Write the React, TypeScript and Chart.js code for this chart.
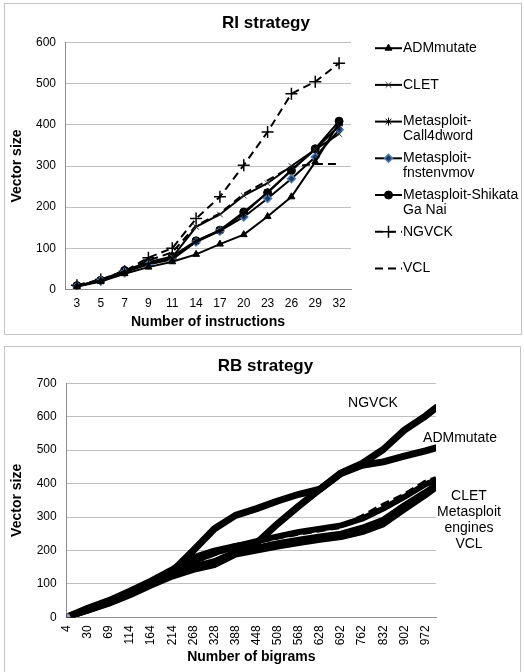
import React, { useEffect, useRef } from 'react';
import { Chart, registerables } from 'chart.js';
import { drawPoint } from 'chart.js/helpers';

Chart.register(...registerables);
Chart.defaults.font.family = '"Liberation Sans", Arial, sans-serif';

// ---------- RI strategy (top chart) ----------
const riTitle = 'RI strategy';
const riCategories = ['3', '5', '7', '9', '11', '14', '17', '20', '23', '26', '29', '32'];
const riADMmutate = [7, 19, 38, 54, 67, 85, 110, 133, 177, 225, 310, 405];
const riCLET = [8, 20, 42, 63, 78, 152, 182, 228, 258, 300, 340, 378];
const riCall4dword = [8, 21, 43, 63, 76, 117, 143, 184, 236, 290, 340, 398];
const riFnstenvmov = [7, 21, 42, 60, 73, 115, 142, 176, 221, 269, 322, 388];
const riShikata = [9, 22, 46, 66, 80, 118, 144, 188, 235, 289, 342, 409];
const riNGVCK = [10, 24, 44, 77, 100, 172, 225, 302, 383, 476, 505, 550];
const riVCL = [9, 23, 45, 70, 90, 155, 185, 232, 265, 298, 305, 305];
const riLegendLines = [
  ['ADMmutate'],
  ['CLET'],
  ['Metasploit-', 'Call4dword'],
  ['Metasploit-', 'fnstenvmov'],
  ['Metasploit-Shikata', 'Ga Nai'],
  ['NGVCK'],
  ['VCL'],
];
const seriesNames = [
  'ADMmutate',
  'CLET',
  'Metasploit-Call4dword',
  'Metasploit-fnstenvmov',
  'Metasploit-Shikata Ga Nai',
  'NGVCK',
  'VCL',
];

// ---------- RB strategy (bottom chart) ----------
const rbTitle = 'RB strategy';
const rbTickLabels = ['4', '30', '69', '114', '164', '214', '268', '328', '388', '448', '508', '568', '628', '692', '762', '832', '902', '972'];
// sample position on the category-index axis (last sample lies half a step after "972")
const rbSampleIndex = [0, 1, 2, 3, 4, 5, 6, 7, 8, 9, 10, 11, 12, 13, 14, 15, 16, 17, 17.5];
const rbADMmutate = [0, 25, 48, 75, 105, 138, 200, 265, 305, 325, 348, 368, 383, 430, 455, 465, 482, 498, 507];
const rbNGVCK = [0, 27, 50, 78, 108, 142, 178, 198, 212, 222, 280, 333, 383, 432, 460, 502, 560, 602, 627];
const rbCLET = [0, 24, 47, 74, 103, 132, 168, 192, 213, 228, 242, 255, 265, 275, 295, 325, 360, 398, 410];
const rbCall4dword = [0, 22, 44, 70, 99, 127, 152, 168, 196, 208, 222, 232, 242, 250, 268, 292, 335, 375, 395];
const rbFnstenvmov = [0, 20, 41, 66, 95, 122, 142, 156, 188, 200, 212, 222, 232, 240, 255, 278, 322, 365, 388];
const rbShikata = [0, 21, 42, 68, 97, 124, 146, 160, 190, 203, 218, 228, 238, 246, 262, 285, 330, 370, 392];
const rbVCL = [0, 23, 46, 72, 101, 130, 166, 190, 211, 226, 240, 252, 262, 272, 300, 335, 365, 404, 415];
const rbGroupLines = ['CLET', 'Metasploit', 'engines', 'VCL'];

const FONT = '"Liberation Sans", Arial, sans-serif';
const GRID = '#bfbfbf';
const AXIS = '#8c8c8c';
const TXT = '#000';

const titlePlugin = {
  id: 'frameTitle',
  afterDraw(chart: any, _args: any, opts: any) {
    const { ctx, width } = chart;
    ctx.save();
    ctx.font = 'bold 17px ' + FONT;
    ctx.textAlign = 'center';
    ctx.textBaseline = 'middle';
    ctx.fillStyle = TXT;
    ctx.fillText(opts.text, width / 2 + 3, 19);
    ctx.restore();
  },
};

const riLegendPlugin = {
  id: 'riLegend',
  afterDraw(chart: any) {
    const { ctx, chartArea } = chart;
    const x0 = chartArea.right + 24;
    const x1 = chartArea.right + 51;
    ctx.save();
    ctx.font = '14px ' + FONT;
    ctx.textBaseline = 'middle';
    ctx.textAlign = 'left';
    chart.data.datasets.forEach((ds: any, i: number) => {
      const y = chartArea.top + 5.5 + i * 36.7;
      ctx.strokeStyle = ds.borderColor;
      ctx.lineWidth = ds.borderWidth;
      ctx.setLineDash(ds.borderDash || []);
      ctx.beginPath();
      ctx.moveTo(x0, y);
      ctx.lineTo(x1, y);
      ctx.stroke();
      ctx.setLineDash([]);
      if (ds.pointRadius > 0) {
        ctx.fillStyle = ds.pointBackgroundColor || ds.backgroundColor;
        ctx.strokeStyle = ds.pointBorderColor || ds.borderColor;
        ctx.lineWidth = ds.pointBorderWidth;
        drawPoint(
          ctx,
          { pointStyle: ds.pointStyle, radius: ds.pointRadius, rotation: 0, borderWidth: ds.pointBorderWidth } as any,
          (x0 + x1) / 2,
          y
        );
      }
      ctx.fillStyle = TXT;
      riLegendLines[i].forEach((t, j) => ctx.fillText(t, x1 + 1, y + j * 15));
    });
    ctx.restore();
  },
};

const rbAnnotationPlugin = {
  id: 'rbAnnotations',
  afterDraw(chart: any) {
    const { ctx, chartArea } = chart;
    ctx.save();
    ctx.font = '14px ' + FONT;
    ctx.textBaseline = 'middle';
    ctx.textAlign = 'center';
    ctx.fillStyle = TXT;
    ctx.fillText(seriesNames[5], chartArea.right - 63, chartArea.top + 19.7);
    ctx.fillText(seriesNames[0], chartArea.right + 24, chartArea.top + 54.7);
    rbGroupLines.forEach((t, j) => ctx.fillText(t, chartArea.right + 33, chartArea.top + 112.4 + j * 16.2));
    ctx.restore();
  },
};

function riConfig(): any {
  const base = { borderColor: '#000', backgroundColor: '#000', borderWidth: 2, tension: 0, pointBorderWidth: 1 };
  return {
    type: 'line',
    data: {
      labels: riCategories,
      datasets: [
        { ...base, label: seriesNames[0], data: riADMmutate, pointStyle: 'triangle', pointRadius: 4 },
        { ...base, label: seriesNames[1], data: riCLET, pointStyle: 'crossRot', pointRadius: 4, pointBorderColor: '#333' },
        { ...base, label: seriesNames[2], data: riCall4dword, pointStyle: 'star', pointRadius: 4 },
        {
          ...base,
          label: seriesNames[3],
          data: riFnstenvmov,
          pointStyle: 'rectRot',
          pointRadius: 4,
          pointBackgroundColor: '#1f3a60',
          pointBorderColor: '#4f81bd',
          pointBorderWidth: 1.5,
        },
        { ...base, label: seriesNames[4], data: riShikata, pointStyle: 'circle', pointRadius: 4 },
        { ...base, label: seriesNames[5], data: riNGVCK, borderDash: [8, 5], pointStyle: 'cross', pointRadius: 6, pointBorderWidth: 1.5 },
        { ...base, label: seriesNames[6], data: riVCL, borderDash: [8, 5], pointRadius: 0 },
      ],
    },
    options: {
      responsive: false,
      animation: false,
      layout: { padding: { left: 0, right: 170, top: 38.7, bottom: 0 } },
      plugins: {
        legend: { display: false },
        tooltip: { enabled: false },
        title: { display: false },
        frameTitle: { text: riTitle },
      },
      scales: {
        x: {
          type: 'category',
          offset: true,
          grid: { display: false, drawTicks: false },
          border: { display: true, color: AXIS, width: 1 },
          ticks: { color: TXT, font: { size: 12 }, padding: 7, autoSkip: false, maxRotation: 0 },
          title: {
            display: true,
            text: 'Number of instructions',
            color: TXT,
            font: { size: 14, weight: 'bold', family: FONT },
            padding: { top: 2, bottom: 3 },
          },
          afterFit: (s: any) => {
            s.height = 44.7;
          },
        },
        y: {
          min: 0,
          max: 600,
          ticks: { stepSize: 100, color: TXT, font: { size: 12 }, padding: 9 },
          grid: { color: GRID, drawTicks: false },
          border: { display: true, color: AXIS, width: 1 },
          title: {
            display: true,
            text: 'Vector size',
            color: TXT,
            font: { size: 14, weight: 'bold', family: FONT },
            padding: { top: 4, bottom: 4 },
          },
          afterFit: (s: any) => {
            s.width = 60;
          },
        },
      },
    },
    plugins: [titlePlugin, riLegendPlugin],
  };
}

function rbConfig(): any {
  const toPoints = (vals: number[]) => vals.map((v, i) => ({ x: rbSampleIndex[i], y: v }));
  const base = { borderColor: '#000', backgroundColor: '#000', tension: 0, pointRadius: 0, borderJoinStyle: 'round', borderCapStyle: 'round' };
  const firstOnly = (r: number) => (c: any) => (c.dataIndex === 0 ? r : 0);
  return {
    type: 'line',
    data: {
      datasets: [
        { ...base, label: seriesNames[0], data: toPoints(rbADMmutate), borderWidth: 7 },
        { ...base, label: seriesNames[1], data: toPoints(rbCLET), borderWidth: 6 },
        {
          ...base,
          label: seriesNames[2],
          data: toPoints(rbCall4dword),
          borderWidth: 6,
          pointStyle: 'rect',
          pointRadius: firstOnly(4.5),
          pointBackgroundColor: '#b5504a',
          pointBorderColor: '#8c3a35',
          pointBorderWidth: 1,
          order: -1,
        },
        {
          ...base,
          label: seriesNames[3],
          data: toPoints(rbFnstenvmov),
          borderWidth: 6,
          pointStyle: 'circle',
          pointRadius: firstOnly(3.5),
          pointBackgroundColor: '#a6a6d2',
          pointBorderColor: '#8a8ab8',
          pointBorderWidth: 1,
          order: -2,
        },
        { ...base, label: seriesNames[4], data: toPoints(rbShikata), borderWidth: 6 },
        { ...base, label: seriesNames[5], data: toPoints(rbNGVCK), borderWidth: 7 },
        { ...base, label: seriesNames[6], data: toPoints(rbVCL), borderWidth: 5, borderDash: [9, 5], borderCapStyle: 'butt' },
      ],
    },
    options: {
      responsive: false,
      animation: false,
      layout: { padding: { left: 0, right: 84, top: 36.3, bottom: 0 } },
      plugins: {
        legend: { display: false },
        tooltip: { enabled: false },
        title: { display: false },
        frameTitle: { text: rbTitle },
      },
      scales: {
        x: {
          type: 'linear',
          min: 0,
          max: 17.5,
          grid: { display: false, drawTicks: false },
          border: { display: true, color: AXIS, width: 1 },
          ticks: {
            stepSize: 1,
            autoSkip: false,
            includeBounds: false,
            minRotation: 90,
            maxRotation: 90,
            padding: 8,
            color: TXT,
            font: { size: 12 },
            callback: (v: number) => (Number.isInteger(v) && rbTickLabels[v] !== undefined ? rbTickLabels[v] : ''),
          },
          title: {
            display: true,
            text: 'Number of bigrams',
            color: TXT,
            font: { size: 14, weight: 'bold', family: FONT },
            padding: { top: 2, bottom: 6.6 },
          },
          afterFit: (s: any) => {
            s.height = 54.7;
          },
        },
        y: {
          min: 0,
          max: 700,
          ticks: { stepSize: 100, color: TXT, font: { size: 12 }, padding: 10 },
          grid: { color: GRID, drawTicks: false },
          border: { display: true, color: AXIS, width: 1 },
          title: {
            display: true,
            text: 'Vector size',
            color: TXT,
            font: { size: 14, weight: 'bold', family: FONT },
            padding: { top: 4, bottom: 4 },
          },
          afterFit: (s: any) => {
            s.width = 61.7;
          },
        },
      },
    },
    plugins: [titlePlugin, rbAnnotationPlugin],
  };
}

export default function App() {
  const topRef = useRef<HTMLCanvasElement>(null);
  const botRef = useRef<HTMLCanvasElement>(null);
  useEffect(() => {
    const c1 = new Chart(topRef.current as HTMLCanvasElement, riConfig());
    const c2 = new Chart(botRef.current as HTMLCanvasElement, rbConfig());
    return () => {
      c1.destroy();
      c2.destroy();
    };
  }, []);
  return (
    <div>
      <div
        style={{
          position: 'absolute',
          left: 4,
          top: 3,
          width: 516,
          height: 330,
          border: '1px solid #c4c4c4',
          background: '#fff',
        }}
      >
        <canvas ref={topRef} width={516} height={330} style={{ display: 'block' }} />
      </div>
      <div
        style={{
          position: 'absolute',
          left: 4,
          top: 346,
          width: 515,
          height: 325,
          border: '1px solid #c4c4c4',
          borderBottom: 'none',
          background: '#fff',
        }}
      >
        <canvas ref={botRef} width={515} height={325} style={{ display: 'block' }} />
      </div>
    </div>
  );
}
